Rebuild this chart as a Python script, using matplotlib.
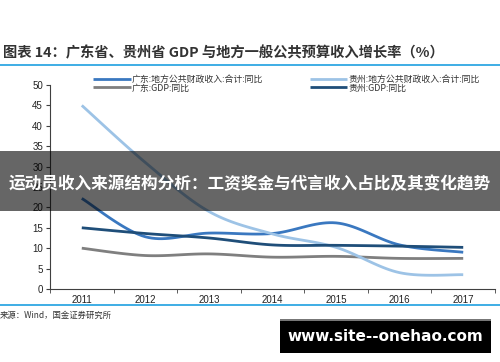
import numpy as np
import matplotlib
matplotlib.use('Agg')
import matplotlib.pyplot as plt
from matplotlib.patches import Rectangle

plt.rcParams['font.family'] = ['Noto Sans CJK SC', 'DejaVu Sans']

years = ['2011', '2012', '2013', '2014', '2015', '2016', '2017']
gd_fiscal = [22.2, 12.8, 13.7, 13.6, 16.2, 10.8, 9.0]   # 广东 地方公共财政收入 同比
gd_gdp = [10.0, 8.2, 8.6, 7.8, 8.0, 7.5, 7.5]           # 广东 GDP 同比
gz_fiscal = [45.0, 31.0, 19.0, 13.5, 10.2, 4.0, 3.5]    # 贵州 地方公共财政收入 同比
gz_gdp = [15.0, 13.6, 12.5, 10.8, 10.7, 10.5, 10.2]     # 贵州 GDP 同比

labels = ['广东:地方公共财政收入:合计:同比', '广东:GDP:同比',
          '贵州:地方公共财政收入:合计:同比', '贵州:GDP:同比']
colors = ['#3a78c0', '#7f7f7f', '#9dc3e6', '#1f4e79']


def smooth(y, n=20):
    '''cardinal (catmull-rom) spline through the points, like excel smoothing'''
    x = np.arange(len(y), dtype=float)
    y = np.asarray(y, dtype=float)
    px = np.concatenate([[x[0]], x, [x[-1]]])
    py = np.concatenate([[y[0]], y, [y[-1]]])
    xs, ys = [], []
    t = np.linspace(0, 1, n)
    for i in range(1, len(px) - 2):
        p0, p1, p2, p3 = [np.array([px[j], py[j]]) for j in range(i-1, i+3)]
        m1, m2 = (p2 - p0) / 2, (p3 - p1) / 2
        h00 = 2*t**3 - 3*t**2 + 1
        h10 = t**3 - 2*t**2 + t
        h01 = -2*t**3 + 3*t**2
        h11 = t**3 - t**2
        pts = (np.outer(h00, p1) + np.outer(h10, m1) +
               np.outer(h01, p2) + np.outer(h11, m2))
        xs.extend(pts[:, 0]); ys.extend(pts[:, 1])
    return np.array(xs), np.array(ys)


fig = plt.figure(figsize=(5, 3.62), dpi=100)
ax = fig.add_axes([0.1, 0.2017, 0.89, 0.5635])
series = [gd_fiscal, gd_gdp, gz_fiscal, gz_gdp]
order = [2, 1, 3, 0]
for i in order:
    xs, ys = smooth(series[i])
    ax.plot(xs, ys, color=colors[i], lw=2.0, solid_capstyle='butt',
            label=labels[i], zorder=3 + i)
ax.set_xlim(-0.5, 6.5)
ax.set_ylim(0, 50)
ax.set_yticks(range(0, 51, 5))
ax.set_xticks(range(len(years)))
ax.set_xticklabels(years)
ax.set_xticks(np.arange(-0.5, 7, 1), minor=True)
ax.tick_params(axis='x', which='major', length=0, pad=4)
ax.tick_params(axis='x', which='minor', length=3, color='#404040')
ax.tick_params(axis='y', length=3, color='#404040', pad=2)
for lab in ax.get_xticklabels() + ax.get_yticklabels():
    lab.set_fontfamily('Liberation Sans')
    lab.set_fontsize(7)
    lab.set_color('#222222')
for s in ['top', 'right']:
    ax.spines[s].set_visible(False)
for s in ['left', 'bottom']:
    ax.spines[s].set_color('#404040')
    ax.spines[s].set_linewidth(0.8)

# legend, two columns in the top strip
handles = {l.get_label(): l for l in ax.get_lines()}
leg = fig.legend([handles[labels[k]] for k in range(4)], labels,
                 loc='upper left', bbox_to_anchor=(0.178, 0.805), ncol=2,
                 frameon=False, fontsize=6.4, handlelength=4.2,
                 handletextpad=0.15, columnspacing=5.2, labelspacing=-0.05,
                 borderpad=0)
for t in leg.get_texts():
    t.set_color('#333333')

# title and rules
fig.text(0.006, 0.853, '图表 14：广东省、贵州省 GDP 与地方一般公共预算收入增长率（%）',
         fontsize=10.3, fontweight='bold', color='#333333', va='center')
fig.add_artist(plt.Line2D([0, 1], [0.821, 0.821], color='#1e9fe0', lw=1.2))
fig.add_artist(plt.Line2D([0, 1], [0.157, 0.157], color='#1e9fe0', lw=1.2))
fig.text(0.0, 0.13, '来源：Wind，国金证券研究所', fontsize=6, color='#333333',
         va='center')

# overlay banner
fig.add_artist(Rectangle((0, 0.417), 1, 0.166, transform=fig.transFigure,
                         facecolor='black', alpha=0.6, edgecolor='none',
                         zorder=10))
fig.text(0.5, 0.49, '运动员收入来源结构分析：工资奖金与代言收入占比及其变化趋势',
         fontsize=12, fontweight='bold', color='white', ha='center',
         va='center', zorder=11)

# watermark box
fig.add_artist(Rectangle((0.56, 0.025), 0.422, 0.094, transform=fig.transFigure,
                         facecolor='black', edgecolor='none', zorder=10))
fig.add_artist(Rectangle((0.56, 0.114), 0.422, 0.006, transform=fig.transFigure,
                         facecolor='#777777', edgecolor='none', zorder=11))
fig.text(0.771, 0.07, 'www.site--onehao.com', fontsize=11, fontweight='bold',
         color='white', ha='center', va='center', zorder=12,
         family='DejaVu Sans')

fig.savefig('out.png', dpi=100)
